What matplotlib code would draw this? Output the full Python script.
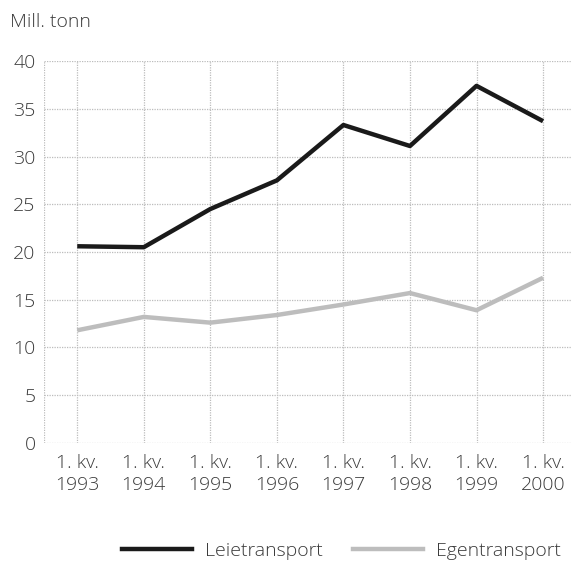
import matplotlib
matplotlib.use("Agg")
import matplotlib.pyplot as plt
from matplotlib.lines import Line2D

categories = ["1. kv.\n1993", "1. kv.\n1994", "1. kv.\n1995", "1. kv.\n1996",
              "1. kv.\n1997", "1. kv.\n1998", "1. kv.\n1999", "1. kv.\n2000"]
leietransport = [20.6, 20.5, 24.5, 27.5, 33.3, 31.1, 37.4, 33.7]
egentransport = [11.8, 13.2, 12.6, 13.4, 14.5, 15.7, 13.9, 17.3]
yticks = [0, 5, 10, 15, 20, 25, 30, 35, 40]

plt.rcParams['font.family'] = ['Open Sans', 'DejaVu Sans']
txt = '#3a3a3a'
fs = 14
fw = 'light'

fig = plt.figure(figsize=(5.71, 5.65), dpi=100)
ax = fig.add_axes([0.077, 0.216, 0.923, 0.676])

x = list(range(len(categories)))
ax.plot(x, leietransport, color='#1a1a1a', lw=3.2, solid_capstyle='butt', zorder=3)
ax.plot(x, egentransport, color='#bdbdbd', lw=3.2, solid_capstyle='butt', zorder=3)

ax.set_xlim(-0.5, 7.42)
ax.set_ylim(0, 40)
ax.set_yticks(yticks)
ax.set_xticks(x)
ax.set_xticklabels(categories, fontsize=fs, color=txt, linespacing=1.3, fontweight=fw)
ax.set_yticklabels([str(v) for v in yticks], fontsize=fs, color=txt, fontweight=fw)
ax.tick_params(axis='y', length=0, pad=6)
ax.tick_params(axis='x', length=0, pad=8)
for s in ax.spines.values():
    s.set_visible(False)

for v in yticks:
    ax.axhline(v, color='#bcbcbc', lw=0.9, ls=(0, (1, 1)), zorder=1)
for xi in x:
    ax.axvline(xi, color='#bcbcbc', lw=0.9, ls=(0, (1, 1)), zorder=1)
ax.axvline(-0.5, color='#bcbcbc', lw=0.9, ls=(0, (1, 1)), zorder=1)

fig.text(10/571, 1 - 22/565, "Mill. tonn", fontsize=fs, color=txt, va='center',
         ha='left', fontweight=fw)

handles = [Line2D([], [], color='#1a1a1a', lw=3.2),
           Line2D([], [], color='#bdbdbd', lw=3.2)]
fig.legend(handles, ["Leietransport", "Egentransport"], loc='center',
           bbox_to_anchor=(0.598, 1 - 551/565), ncol=2, frameon=False,
           prop={'size': fs, 'weight': fw}, labelcolor=txt, handlelength=3.6,
           handletextpad=0.65, columnspacing=1.6)

fig.savefig("out.png", dpi=100)
